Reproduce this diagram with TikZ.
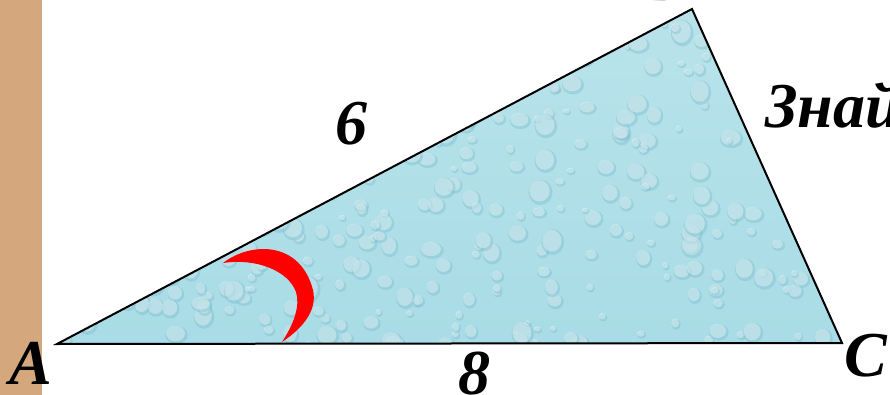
\documentclass[tikz,border=0pt]{standalone}
\usepackage{fontspec}
\setmainfont{Liberation Serif}
\begin{document}
\begin{tikzpicture}[x=1pt,y=-1pt,
  lbl/.style={font=\bfseries\itshape\fontsize{64}{64}\selectfont, inner sep=0pt, anchor=base},
  edge/.style={draw=black, line width=2pt, line join=miter}]
\definecolor{strip}{HTML}{D4A87C}
\definecolor{water}{HTML}{A8DCE6}
\definecolor{waterdk}{HTML}{7FC0CF}
\useasboundingbox (0,0) rectangle (890,395);
\fill[white] (0,0) rectangle (890,395);
\fill[strip] (0,0) rectangle (42,395);
\coordinate (A) at (57,344);
\coordinate (B) at (692,9);
\coordinate (C) at (842,343);
\begin{scope}
  \clip (A) -- (B) -- (C) -- cycle;
  \shade[top color=water!80!white, bottom color=water] (40,0) rectangle (860,350);
  \pgfmathsetseed{7}
  \foreach \i in {1,...,420} {
    \pgfmathsetmacro\px{rnd*800+50}
    \pgfmathsetmacro\py{rnd*340+5}
    \pgfmathsetmacro\rr{rnd*9+3}
    \pgfmathsetmacro\ry{\rr*(0.7+rnd*0.5)}
    \fill[waterdk, opacity=0.45] (\px+1,\py+1.5) ellipse ({\rr} and {\ry});
    \fill[white, opacity=0.35] (\px,\py) ellipse ({\rr*0.85} and {\ry*0.85});
  }
\end{scope}
\draw[edge] (A) -- (B) -- (C) -- cycle;
\fill[red] (223,263) .. controls (250,242) and (300,240) .. (313,290)
  .. controls (318,312) and (300,330) .. (282,342)
  .. controls (295,322) and (300,305) .. (296,292)
  .. controls (288,270) and (255,258) .. (223,263) -- cycle;
\node[lbl] (la) at (31,384) {A};
\node[lbl] (lc) at (866,376) {C};
\node[lbl] (lb) at (664,1) {B};
\node[lbl] (l6) at (351,145) {6};
\node[lbl] (l8) at (474,394) {8};
\node[lbl, anchor=base west] (txt) at (765,128) {Знай};
\end{tikzpicture}
\end{document}
